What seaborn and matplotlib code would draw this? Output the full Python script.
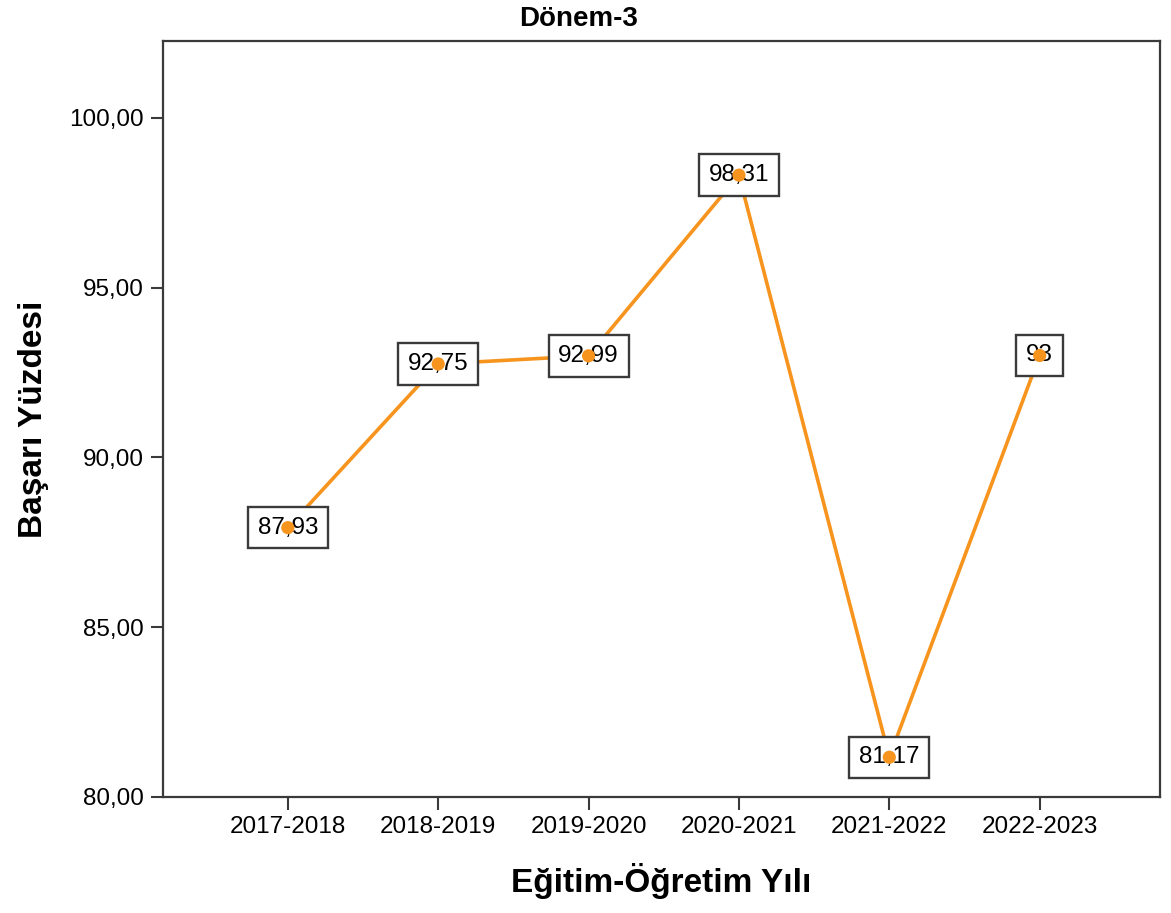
import seaborn as sns
import matplotlib.pyplot as plt
from matplotlib.ticker import FuncFormatter
import pandas as pd

years = ["2017-2018", "2018-2019", "2019-2020", "2020-2021", "2021-2022", "2022-2023"]
values = [87.93, 92.75, 92.99, 98.31, 81.17, 93.00]
labels = ["87,93", "92,75", "92,99", "98,31", "81,17", "93"]

df = pd.DataFrame({"yil": years, "basari": values})

sns.set_style("white")
plt.rcParams["font.family"] = ["Liberation Sans", "DejaVu Sans"]

orange = "#F7941E"
edge = "#3a3a3a"

fig = plt.figure(figsize=(11.71, 9.13), dpi=100)
ax = fig.add_axes([0.1392, 0.1271, 0.8514, 0.828])

sns.lineplot(data=df, x="yil", y="basari", ax=ax, color=orange, linewidth=2.6, zorder=2)
sns.scatterplot(data=df, x="yil", y="basari", ax=ax, color=orange, s=90,
                edgecolor="none", zorder=5)

# etiket kutulari, nokta ustte kalsin
for i, (v, t) in enumerate(zip(values, labels)):
    ax.text(i, v, t, ha="center", va="center", fontsize=17.5, color="black", zorder=4,
            bbox=dict(boxstyle="square,pad=0.4", fc="white", ec=edge, lw=1.7))

ax.set_xlim(-0.83, 5.8)
ax.set_ylim(80, 102.26)
ax.set_yticks([80, 85, 90, 95, 100])
ax.yaxis.set_major_formatter(FuncFormatter(lambda v, p: f"{v:.2f}".replace(".", ",")))

for s in ax.spines.values():
    s.set_color(edge)
    s.set_linewidth(1.6)

ax.tick_params(axis="both", direction="out", length=9, width=1.5, color=edge,
               labelsize=17.5, pad=5, labelcolor="black")
ax.tick_params(bottom=True, left=True)

ax.set_xlabel("Eğitim-Öğretim Yılı", fontsize=24, fontweight="bold", labelpad=18, color="black")
ax.set_ylabel("Başarı Yüzdesi", fontsize=24, fontweight="bold", labelpad=14, color="black")
fig.text(0.494, 0.979, "Dönem-3", ha="center", va="center", fontsize=20,
         fontweight="bold", color="black")

fig.savefig("out.png", dpi=100)
